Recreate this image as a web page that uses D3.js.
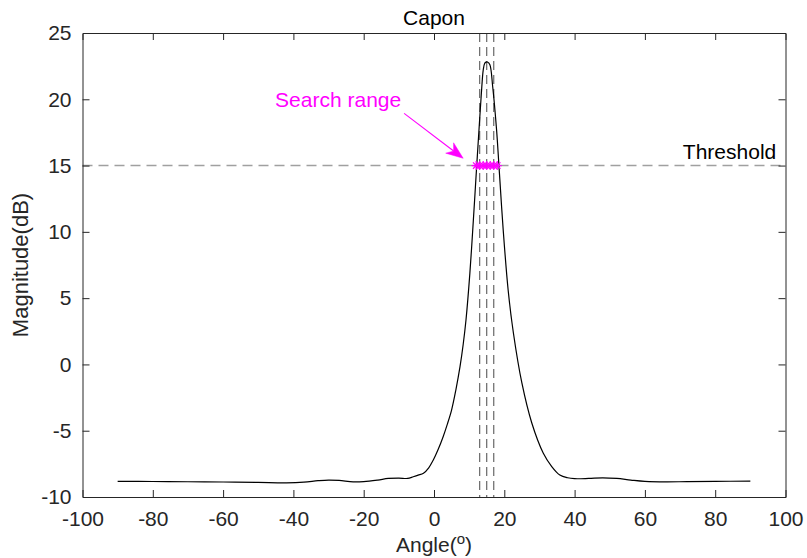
<!DOCTYPE html>
<html><head><meta charset="utf-8">
<script src="https://cdn.jsdelivr.net/npm/d3@7"></script>
<style>
html,body{margin:0;padding:0;background:#fff;}
svg text{font-family:"Liberation Sans",Arial,Helvetica,sans-serif;}
</style></head>
<body><svg id="chart" width="807" height="558"></svg>
<script>
// ---- data ----
const angles = [-90,-80,-70,-60,-50,-42,-37,-33,-30,-27,-23,-20,-16,-13,-10,-7.5,-5.9,-4.5,-3,-1.5,-0.2,1.2,2.6,3.8,5.0,6.2,7.4,8.3,9.1,10.2,11.2,11.9,12.8,13.6,14.0,14.4,14.8,15.3,15.9,16.7,17.8,18.5,19.7,21.1,22.6,25.0,27.8,31.1,33.5,35.8,38,40,44,48,52,56,60,66,72,80,90];
const magnitude = [-8.82,-8.83,-8.85,-8.87,-8.9,-8.93,-8.88,-8.77,-8.72,-8.75,-8.86,-8.84,-8.72,-8.6,-8.57,-8.6,-8.47,-8.35,-8.21,-7.8,-7.21,-6.4,-5.45,-4.5,-3.44,-1.95,-0.17,1.5,3.35,6.87,10.89,13.91,17.7,20.95,22.2,22.7,22.8,22.8,22.6,20.95,17.7,14.9,10.1,5.6,2.35,-1.4,-4.4,-6.7,-7.7,-8.34,-8.55,-8.62,-8.6,-8.55,-8.6,-8.72,-8.82,-8.86,-8.84,-8.82,-8.8];
const threshold = 15;
const searchLines = [13, 15, 17];
const searchStars = [12, 13, 14, 15, 16, 17, 18];
const xTicks = [-100,-80,-60,-40,-20,0,20,40,60,80,100];
const yTicks = [-10,-5,0,5,10,15,20,25];
const titleText = "Capon";
const xLabel = "Angle(";
const yLabel = "Magnitude(dB)";
const annotText = "Search range";
const thresholdText = "Threshold";

// ---- layout ----
const L = 82.5, R = 785.5, T = 33, B = 497;
const axisColor = "#262626";
const fs = "21px";
const svg = d3.select("#chart");
const x = d3.scaleLinear().domain([-100, 100]).range([L, R]);
const y = d3.scaleLinear().domain([-10, 25]).range([B, T]);
const tickLen = 7;
const fmt = d => String(d);

svg.append("rect").attr("width", 807).attr("height", 558).attr("fill", "#fff");

// threshold line
svg.append("line")
  .attr("x1", x(-100)).attr("x2", x(100))
  .attr("y1", y(threshold)).attr("y2", y(threshold))
  .attr("stroke", "#a0a0a0").attr("stroke-width", 1.4)
  .attr("stroke-dasharray", "10,6");

// search-range vertical lines
svg.selectAll("line.sr").data(searchLines).join("line")
  .attr("class", "sr")
  .attr("x1", d => x(d)).attr("x2", d => x(d))
  .attr("y1", y(25)).attr("y2", y(-10))
  .attr("stroke", "#5a5a5a").attr("stroke-width", 1.1)
  .attr("stroke-dasharray", "9,5");

// curve
const pts = angles.map((a, i) => [a, magnitude[i]]);
svg.append("path")
  .datum(pts)
  .attr("fill", "none").attr("stroke", "#000").attr("stroke-width", 1.2)
  .attr("d", d3.line().x(d => x(d[0])).y(d => y(d[1])).curve(d3.curveCatmullRom.alpha(0.5)));

// star markers
const r = 4.5;
const starPath = (cx, cy) => {
  const k = r * Math.SQRT1_2;
  return `M${cx},${cy - r}L${cx},${cy + r}M${cx - r},${cy}L${cx + r},${cy}` +
         `M${cx - k},${cy - k}L${cx + k},${cy + k}M${cx - k},${cy + k}L${cx + k},${cy - k}`;
};
svg.selectAll("path.star").data(searchStars).join("path")
  .attr("class", "star")
  .attr("d", d => starPath(x(d), y(threshold)))
  .attr("stroke", "#ff00ff").attr("stroke-width", 1.2).attr("fill", "none");

// axes box
const gx = svg.append("g").attr("transform", `translate(0,${B})`)
  .call(d3.axisBottom(x).tickValues(xTicks).tickSize(-tickLen).tickPadding(14).tickFormat(fmt));
const gxTop = svg.append("g").attr("transform", `translate(0,${T})`)
  .call(d3.axisTop(x).tickValues(xTicks).tickSize(-tickLen).tickFormat(""));
const gy = svg.append("g").attr("transform", `translate(${L},0)`)
  .call(d3.axisLeft(y).tickValues(yTicks).tickSize(-tickLen).tickPadding(11).tickFormat(fmt));
const gyR = svg.append("g").attr("transform", `translate(${R},0)`)
  .call(d3.axisRight(y).tickValues(yTicks).tickSize(-tickLen).tickFormat(""));
[gx, gxTop, gy, gyR].forEach(g => {
  g.select(".domain").attr("stroke", axisColor).attr("stroke-width", 1);
  g.selectAll(".tick line").attr("stroke", axisColor).attr("stroke-width", 1);
  g.selectAll(".tick text").attr("fill", axisColor)
    .style("font-family", '"Liberation Sans",Arial,sans-serif').style("font-size", fs);
});
[gx, gxTop].forEach(g => g.selectAll(".tick line").filter(d => d === -100 || d === 100).remove());
[gy, gyR].forEach(g => g.selectAll(".tick line").filter(d => d === -10 || d === 25).remove());

// title
svg.append("text").attr("x", (L + R) / 2).attr("y", 25)
  .attr("text-anchor", "middle").attr("fill", "#000")
  .style("font-size", fs).text(titleText);

// x label
const xl = svg.append("text").attr("x", (L + R) / 2).attr("y", 552)
  .attr("text-anchor", "middle").attr("fill", axisColor).style("font-size", fs);
xl.append("tspan").text(xLabel);
xl.append("tspan").attr("dy", -8).style("font-size", "15px").text("o");
xl.append("tspan").attr("dy", 8).text(")");

// y label
svg.append("text").attr("transform", `translate(28,${(T + B) / 2}) rotate(-90)`)
  .attr("text-anchor", "middle").attr("fill", axisColor)
  .style("font-size", "22px").text(yLabel);

// annotation
const arrowFrom = [x(-8.5), y(18.94)];
const arrowTo = [x(8.3), y(15.55)];
const dx = arrowTo[0] - arrowFrom[0], dy = arrowTo[1] - arrowFrom[1];
const len = Math.hypot(dx, dy), ux = dx / len, uy = dy / len, px = -uy, py = ux;
const hl = 17, hw = 6.5, notch = 12;
svg.append("line")
  .attr("x1", arrowFrom[0]).attr("y1", arrowFrom[1])
  .attr("x2", arrowTo[0] - ux * notch).attr("y2", arrowTo[1] - uy * notch)
  .attr("stroke", "#ff00ff").attr("stroke-width", 1.1);
const tip = arrowTo;
const back = [tip[0] - ux * hl, tip[1] - uy * hl];
const nb = [tip[0] - ux * notch, tip[1] - uy * notch];
svg.append("path")
  .attr("d", `M${tip[0]},${tip[1]}L${back[0] + px * hw},${back[1] + py * hw}L${nb[0]},${nb[1]}L${back[0] - px * hw},${back[1] - py * hw}Z`)
  .attr("fill", "#ff00ff").attr("stroke", "#ff00ff").attr("stroke-width", 0.5);
svg.append("text").attr("x", x(-45.2)).attr("y", y(19.4))
  .attr("fill", "#ff00ff").style("font-size", fs).text(annotText);

svg.append("text").attr("x", x(70.8)).attr("y", y(15.5))
  .attr("fill", "#000").style("font-size", fs).text(thresholdText);
</script>
</body></html>
